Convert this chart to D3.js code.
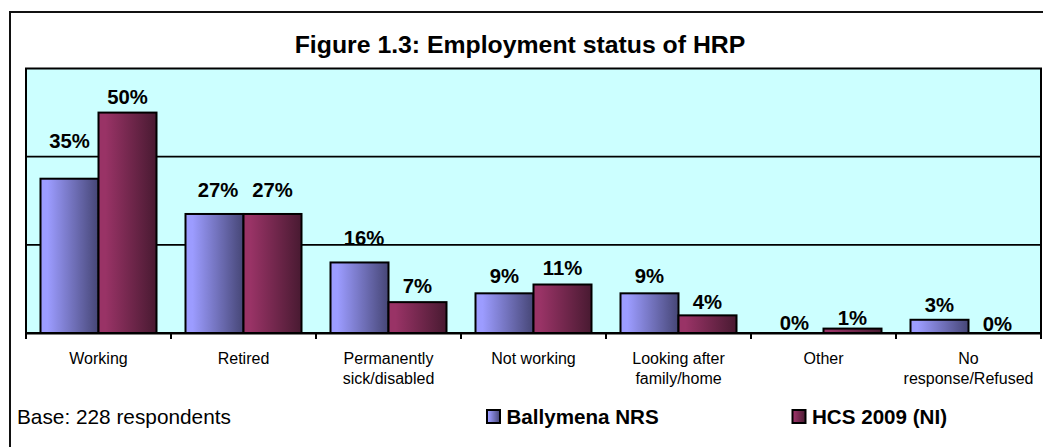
<!DOCTYPE html>
<html>
<head>
<meta charset="utf-8">
<script src="https://cdn.jsdelivr.net/npm/d3@7"></script>
<style>
  html, body { margin: 0; padding: 0; background: #fff; }
  svg { display: block; }
  text { font-family: "Liberation Sans", Arial, Helvetica, sans-serif; }
</style>
</head>
<body>
<svg id="chart" width="1043" height="447"></svg>
<script>
// ---- data ----
const categories = ["Working", "Retired", "Permanently\nsick/disabled", "Not working",
                    "Looking after\nfamily/home", "Other", "No\nresponse/Refused"];
const seriesNames = ["Ballymena NRS", "HCS 2009 (NI)"];
const ballymena = [35, 27, 16, 9, 9, 0, 3];
const hcs2009   = [50, 27, 7, 11, 4, 1, 0];
const yTicks = [0, 20, 40, 60];
const titleText = "Figure 1.3: Employment status of HRP";
const baseText = "Base: 228 respondents";

// ---- layout ----
const W = 1043, H = 447;
const plot = { left: 26, right: 1041, top: 68.5, bottom: 333 };
// manual label placement (pixels above bar top, horizontal shift) as in the original
const labelGap = [[30.5, 8.6], [16.7, 16.7], [17.5, 8.8], [10, 9.5], [10, 6], [3, 3.6], [7.5, 2]];
const labelDx  = [[0, 0], [3.5, 0], [4.5, 0], [0, 0], [0, 0], [0, 0], [0, 0]];

const svg = d3.select("#chart");
const defs = svg.append("defs");
const grads = [
  { id: "gBlue", from: "#9c9cff", to: "#464676" },
  { id: "gRed",  from: "#993366", to: "#481a31" }
];
grads.forEach(g => {
  const lg = defs.append("linearGradient").attr("id", g.id)
    .attr("x1", "0%").attr("x2", "100%").attr("y1", "0%").attr("y2", "0%");
  lg.append("stop").attr("offset", "0%").attr("stop-color", g.from);
  lg.append("stop").attr("offset", "12%").attr("stop-color", g.from);
  lg.append("stop").attr("offset", "100%").attr("stop-color", g.to);
});
const fills = ["url(#gBlue)", "url(#gRed)"];

// outer frame (extends past the right and bottom edges)
svg.append("rect").attr("x", 10).attr("y", 12).attr("width", 1200).attr("height", 600)
  .attr("fill", "#fff").attr("stroke", "#111").attr("stroke-width", 2);

// title
svg.append("text").attr("x", 520).attr("y", 52.5).attr("text-anchor", "middle")
  .attr("font-size", 24.8).attr("font-weight", "bold").attr("fill", "#000").text(titleText);

// scales
const x0 = d3.scaleBand().domain(categories).range([plot.left, plot.right]).paddingInner(0).paddingOuter(0);
const x1 = d3.scaleBand().domain(seriesNames).range([0, x0.bandwidth()]).paddingInner(0).paddingOuter(0.25);
const y = d3.scaleLinear().domain([0, 60]).range([plot.bottom, plot.top]);

// plot background
svg.append("rect").attr("x", plot.left).attr("y", plot.top)
  .attr("width", plot.right - plot.left).attr("height", plot.bottom - plot.top)
  .attr("fill", "#ccffff");

// gridlines
svg.append("g").selectAll("line").data(yTicks.filter(t => t > 0 && t < 60)).join("line")
  .attr("x1", plot.left).attr("x2", plot.right)
  .attr("y1", d => y(d)).attr("y2", d => y(d))
  .attr("stroke", "#000").attr("stroke-width", 1.8);

// bars
const seriesData = [ballymena, hcs2009];
const groups = svg.append("g").selectAll("g").data(categories).join("g")
  .attr("transform", d => `translate(${x0(d)},0)`);
groups.selectAll("rect").data((c, i) => seriesNames.map((s, j) => ({ s, j, v: seriesData[j][i] })))
  .join("rect")
  .attr("x", d => x1(d.s)).attr("width", x1.bandwidth())
  .attr("y", d => y(d.v)).attr("height", d => plot.bottom - y(d.v))
  .attr("fill", d => fills[d.j]).attr("stroke", "#000").attr("stroke-width", 2)
  .attr("display", d => d.v === 0 ? "none" : null);

// plot border
svg.append("rect").attr("x", plot.left).attr("y", plot.top)
  .attr("width", plot.right - plot.left).attr("height", plot.bottom - plot.top)
  .attr("fill", "none").attr("stroke", "#000").attr("stroke-width", 2);

// x axis with ticks between categories
const xAxis = svg.append("g").attr("transform", `translate(0,${plot.bottom})`)
  .call(d3.axisBottom(x0).tickSize(0).tickFormat(""));
xAxis.select(".domain").attr("stroke", "#000").attr("stroke-width", 2);
const bounds = categories.map(c => x0(c)).concat([plot.right]);
xAxis.selectAll(".sep").data(bounds).join("line").attr("class", "sep")
  .attr("x1", d => d).attr("x2", d => d).attr("y1", 0).attr("y2", 6)
  .attr("stroke", "#000").attr("stroke-width", 2);

// category labels
categories.forEach(c => {
  const t = svg.append("text").attr("text-anchor", "middle").attr("font-size", 16).attr("fill", "#000");
  c.split("\n").forEach((line, k) => {
    t.append("tspan").attr("x", x0(c) + x0.bandwidth() / 2).attr("y", 363.5 + k * 20).text(line);
  });
});

// value labels
groups.selectAll("text.val").data((c, i) => seriesNames.map((s, j) => ({ s, j, i, v: seriesData[j][i] })))
  .join("text").attr("class", "val")
  .attr("x", d => x1(d.s) + x1.bandwidth() / 2 + labelDx[d.i][d.j])
  .attr("y", d => y(d.v) - labelGap[d.i][d.j])
  .attr("text-anchor", "middle").attr("font-size", 20.3).attr("font-weight", "bold").attr("fill", "#000")
  .text(d => d.v + "%");

// base note
svg.append("text").attr("x", 17).attr("y", 424).attr("font-size", 20.8).attr("fill", "#000").text(baseText);

// legend
const legend = [{ x: 486, name: seriesNames[0], fill: fills[0] }, { x: 791.5, name: seriesNames[1], fill: fills[1] }];
legend.forEach(l => {
  svg.append("rect").attr("x", l.x + 1).attr("y", 410).attr("width", 13).attr("height", 13)
    .attr("fill", l.fill).attr("stroke", "#000").attr("stroke-width", 2);
  svg.append("text").attr("x", l.x + 20.5).attr("y", 423.5).attr("font-size", 20.6)
    .attr("font-weight", "bold").attr("fill", "#000").text(l.name);
});
</script>
</body>
</html>
